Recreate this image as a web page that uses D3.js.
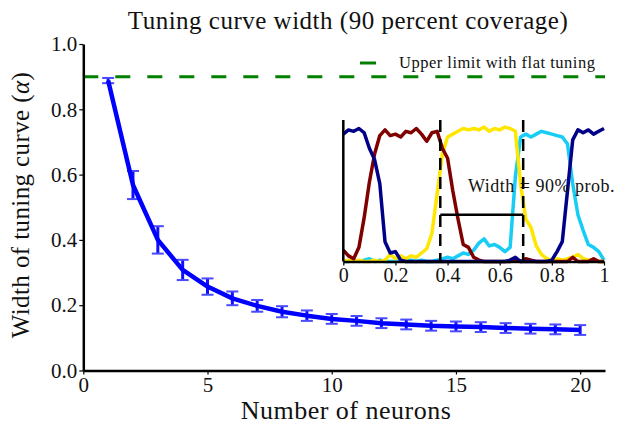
<!DOCTYPE html>
<meta charset="utf-8">
<style type="text/css">
  body { margin: 0; background: #fff; }
  text { font-family: "Liberation Serif", serif; fill: #111; }
  .axis path, .axis line { stroke: #000; }
  .axis path { stroke-width: 2.5; }
  .axis line { stroke-width: 1.2; }
</style>
<body>
</body>
<script src="https://d3js.org/d3.v7.min.js"></script>
<script>
  // main curve: width of tuning curve vs number of neurons
  var neurons = d3.range(1, 21);
  var widths = [0.888, 0.568, 0.400, 0.308, 0.257, 0.221, 0.198, 0.180, 0.168, 0.158,
                0.152, 0.145, 0.141, 0.137, 0.135, 0.133, 0.130, 0.128, 0.126, 0.124];
  var errors = [0.008, 0.043, 0.042, 0.031, 0.025, 0.021, 0.018, 0.017, 0.016, 0.015,
                0.015, 0.015, 0.015, 0.015, 0.015, 0.015, 0.015, 0.015, 0.015, 0.015];
  var flatLimit = 0.9;

  var xTicks = [0, 5, 10, 15, 20];
  var yTicks = [0, 0.2, 0.4, 0.6, 0.8, 1.0];

  // inset: four example tuning curves
  var insetX = d3.range(0, 51).map(function(i) { return i / 50; });
  var navy = [0.90, 0.93, 0.92, 0.94, 0.91, 0.80, 0.72, 0.55, 0.14, 0.06,
              0.07, 0.01, 0.00, 0.00, 0.00, 0.00, 0.00, 0.00, 0.00, 0.00,
              0.00, 0.00, 0.00, 0.00, 0.00, 0.00, 0.00, 0.00, 0.00, 0.00,
              0.00, 0.00, 0.01, 0.03, 0.00, 0.00, 0.00, 0.00, 0.00, 0.00,
              0.01, 0.07, 0.14, 0.50, 0.86, 0.93, 0.91, 0.93, 0.90, 0.92, 0.94];
  var darkRed = [0.08, 0.04, 0.02, 0.10, 0.31, 0.56, 0.76, 0.89, 0.93, 0.89,
                 0.90, 0.88, 0.92, 0.91, 0.94, 0.90, 0.85, 0.91, 0.92, 0.80,
                 0.73, 0.50, 0.30, 0.12, 0.10, 0.03, 0.01, 0.00, 0.00, 0.00,
                 0.00, 0.00, 0.00, 0.01, 0.00, 0.02, 0.01, 0.00, 0.00, 0.00,
                 0.00, 0.00, 0.00, 0.00, 0.03, 0.00, 0.00, 0.00, 0.02, 0.00, 0.00];
  var yellow = [0.00, 0.01, 0.00, 0.01, 0.00, 0.00, 0.01, 0.00, 0.01, 0.05,
                0.02, 0.04, 0.02, 0.04, 0.03, 0.06, 0.09, 0.20, 0.48, 0.76,
                0.88, 0.90, 0.92, 0.94, 0.93, 0.94, 0.93, 0.95, 0.92, 0.94,
                0.93, 0.95, 0.94, 0.92, 0.55, 0.30, 0.24, 0.11, 0.05, 0.02,
                0.01, 0.02, 0.01, 0.02, 0.03, 0.05, 0.02, 0.01, 0.01, 0.00, 0.00];
  var cyan = [0.00, 0.00, 0.01, 0.00, 0.01, 0.02, 0.00, 0.01, 0.00, 0.00,
              0.00, 0.01, 0.00, 0.01, 0.00, 0.01, 0.00, 0.00, 0.01, 0.02,
              0.03, 0.02, 0.04, 0.06, 0.05, 0.08, 0.13, 0.16, 0.11, 0.12,
              0.10, 0.07, 0.10, 0.60, 0.88, 0.90, 0.88, 0.90, 0.92, 0.91,
              0.90, 0.89, 0.88, 0.83, 0.55, 0.33, 0.22, 0.12, 0.10, 0.07, 0.01];
  var insetTicks = [0, 0.2, 0.4, 0.6, 0.8, 1];
  var widthEdges = [0.372, 0.69];
  var widthBarLevel = 0.33;

  var W = 622, H = 435;
  var svg = d3.select("body").append("svg")
    .attr("width", W)
    .attr("height", H);

  var x = d3.scaleLinear().domain([0, 21]).range([83.3, 605]);
  var y = d3.scaleLinear().domain([0, 1]).range([370.5, 44]);

  // flat tuning limit
  svg.append("line")
    .attr("x1", x(0)).attr("x2", x(21))
    .attr("y1", y(flatLimit)).attr("y2", y(flatLimit))
    .attr("stroke", "#008000")
    .attr("stroke-width", 3)
    .attr("stroke-dasharray", "15,17");

  // axes
  svg.append("g")
    .attr("class", "axis")
    .attr("transform", "translate(0," + y(0) + ")")
    .call(d3.axisBottom(x).tickValues(xTicks).tickFormat(d3.format("d"))
      .tickSize(4).tickSizeOuter(0).tickPadding(3))
    .selectAll("text").attr("font-size", 21).attr("font-family", "Liberation Serif");

  svg.append("g")
    .attr("class", "axis")
    .attr("transform", "translate(" + x(0) + ",0)")
    .call(d3.axisLeft(y).tickValues(yTicks).tickFormat(d3.format(".1f"))
      .tickSize(4).tickSizeOuter(0).tickPadding(2))
    .selectAll("text").attr("font-size", 21).attr("font-family", "Liberation Serif");

  // error bars
  var eb = svg.append("g");
  neurons.forEach(function(n, i) {
    var cx = x(n);
    eb.append("line")
      .attr("x1", cx).attr("x2", cx)
      .attr("y1", y(widths[i] - errors[i])).attr("y2", y(widths[i] + errors[i]))
      .attr("stroke", "#1010ff").attr("stroke-width", 3);
    [widths[i] - errors[i], widths[i] + errors[i]].forEach(function(v) {
      eb.append("line")
        .attr("x1", cx - 6).attr("x2", cx + 6)
        .attr("y1", y(v)).attr("y2", y(v))
        .attr("stroke", "#4a4aff").attr("stroke-width", 2);
    });
  });

  // main line
  var line = d3.line()
    .x(function(d, i) { return x(neurons[i]); })
    .y(function(d) { return y(d); });
  svg.append("path")
    .datum(widths)
    .attr("d", line)
    .attr("fill", "none")
    .attr("stroke", "#0000ff")
    .attr("stroke-width", 4.5)
    .attr("stroke-linejoin", "round");

  // legend
  svg.append("line")
    .attr("x1", 360).attr("x2", 376)
    .attr("y1", 63).attr("y2", 63)
    .attr("stroke", "#008000").attr("stroke-width", 3);
  svg.append("text")
    .attr("x", 399).attr("y", 67.5)
    .attr("font-size", 16.5)
    .attr("letter-spacing", 0.5)
    .text("Upper limit with flat tuning");

  // title and labels
  svg.append("text")
    .attr("x", 348).attr("y", 29)
    .attr("text-anchor", "middle")
    .attr("font-size", 25)
    .attr("letter-spacing", 0.5)
    .text("Tuning curve width (90 percent coverage)");

  svg.append("text")
    .attr("x", 346).attr("y", 419)
    .attr("text-anchor", "middle")
    .attr("font-size", 26)
    .attr("letter-spacing", 0.5)
    .text("Number of neurons");

  var yl = svg.append("text")
    .attr("transform", "translate(29,205) rotate(-90)")
    .attr("text-anchor", "middle")
    .attr("font-size", 25)
    .attr("letter-spacing", 0.4);
  yl.append("tspan").text("Width of tuning curve (");
  yl.append("tspan").attr("font-style", "italic").text("α");
  yl.append("tspan").text(")");

  // ---- inset ----
  var ix = d3.scaleLinear().domain([0, 1]).range([343.3, 604]);
  var iy = d3.scaleLinear().domain([0, 1]).range([261.5, 120]);

  var ig = svg.append("g");
  ig.append("rect")
    .attr("x", ix(0)).attr("y", iy(1))
    .attr("width", ix(1) - ix(0)).attr("height", iy(0) - iy(1))
    .attr("fill", "#fff");

  var iline = d3.line()
    .x(function(d, i) { return ix(insetX[i]); })
    .y(function(d) { return iy(d); });

  [[cyan, "#18cdf5"], [yellow, "#ffe600"], [darkRed, "#800000"], [navy, "#000088"]]
    .forEach(function(s) {
      ig.append("path")
        .datum(s[0])
        .attr("d", iline)
        .attr("fill", "none")
        .attr("stroke", s[1])
        .attr("stroke-width", 3.5)
        .attr("stroke-linejoin", "round");
    });

  // width markers
  widthEdges.forEach(function(e) {
    ig.append("line")
      .attr("x1", ix(e)).attr("x2", ix(e))
      .attr("y1", iy(1)).attr("y2", iy(0))
      .attr("stroke", "#000").attr("stroke-width", 2.5)
      .attr("stroke-dasharray", "12,7");
  });
  ig.append("line")
    .attr("x1", ix(widthEdges[0])).attr("x2", ix(widthEdges[1]))
    .attr("y1", iy(widthBarLevel)).attr("y2", iy(widthBarLevel))
    .attr("stroke", "#000").attr("stroke-width", 2.5);

  ig.append("text")
    .attr("x", 468).attr("y", 191.5)
    .attr("font-size", 18)
    .attr("letter-spacing", 0.5)
    .text("Width = 90% prob.");

  ig.append("g")
    .attr("class", "axis")
    .attr("transform", "translate(0," + iy(0) + ")")
    .call(d3.axisBottom(ix).tickValues(insetTicks)
      .tickFormat(function(d) { return (d === 0 || d === 1) ? String(d) : d.toFixed(1); })
      .tickSize(4).tickSizeOuter(0).tickPadding(2))
    .selectAll("text").attr("font-size", 20).attr("font-family", "Liberation Serif");

  ig.append("line")
    .attr("x1", ix(0)).attr("x2", ix(0))
    .attr("y1", iy(1)).attr("y2", iy(0))
    .attr("stroke", "#000").attr("stroke-width", 2.5);
</script>
